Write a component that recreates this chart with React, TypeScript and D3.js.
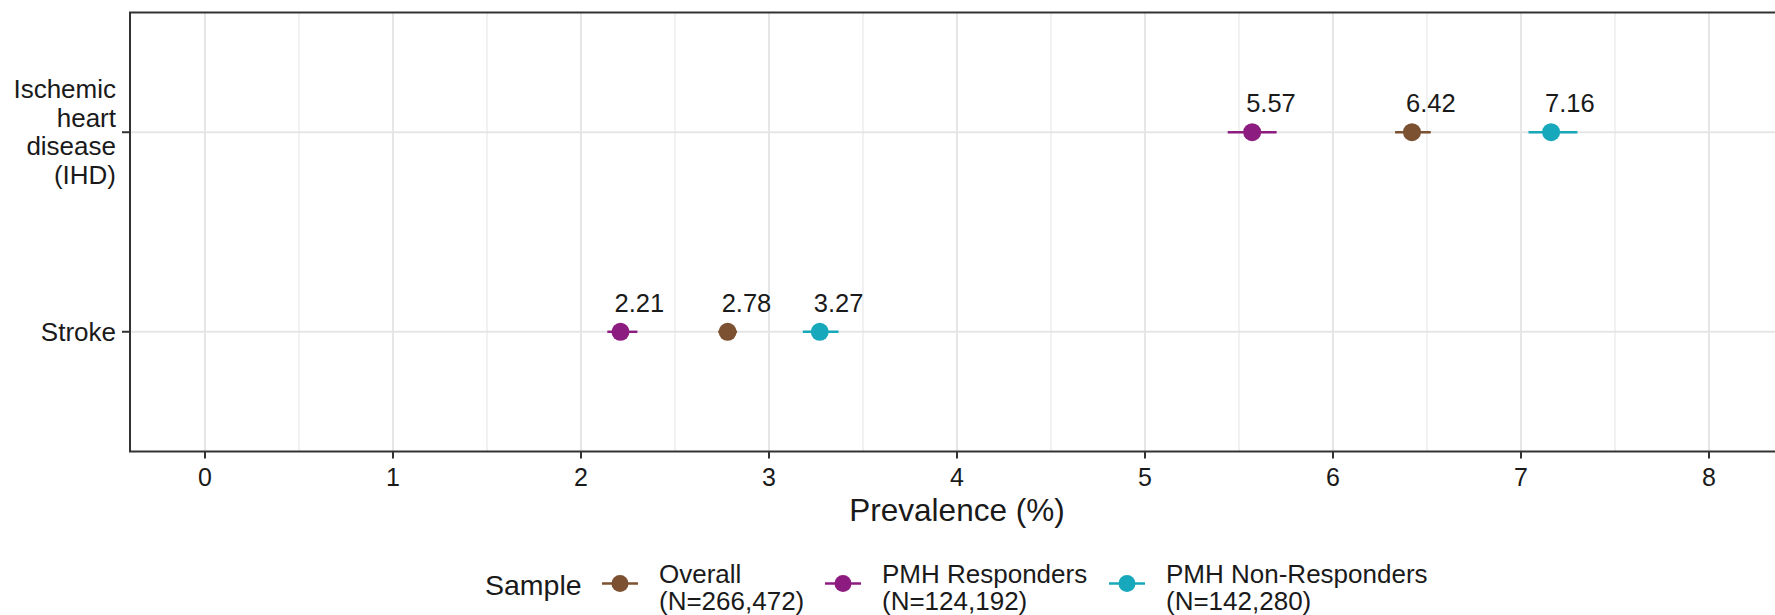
import { useEffect, useRef } from 'react'
import * as d3 from 'd3'

// conditions, top to bottom
const conditions = ['Ischemic\nheart\ndisease\n(IHD)', 'Stroke']
const samples = ['Overall', 'PMH Responders', 'PMH Non-Responders']
const sampleLabels = ['Overall\n(N=266,472)', 'PMH Responders\n(N=124,192)', 'PMH Non-Responders\n(N=142,280)']
const sampleColors = ['#7b5131', '#8c1c7f', '#17a8bb']

// prevalence (%) per sample, same order as conditions
const overallEst = [6.42, 2.78]
const overallLow = [6.33, 2.73]
const overallHigh = [6.52, 2.83]
const respEst = [5.57, 2.21]
const respLow = [5.44, 2.14]
const respHigh = [5.70, 2.30]
const nonRespEst = [7.16, 3.27]
const nonRespLow = [7.04, 3.18]
const nonRespHigh = [7.30, 3.37]

const xTicks = [0, 1, 2, 3, 4, 5, 6, 7, 8]
const xMinor = [0.5, 1.5, 2.5, 3.5, 4.5, 5.5, 6.5, 7.5]

const FONT = '"Liberation Sans", Arial, Helvetica, sans-serif'

export default function App() {
  const svgRef = useRef<SVGSVGElement>(null)

  useEffect(() => {
    if (!svgRef.current) return
    const svg = d3.select(svgRef.current)
    svg.selectAll('*').remove()

    const panel = { left: 130, top: 12.5, bottom: 451.5, right: 1790 }

    const x = d3.scaleLinear().domain([0, 8]).range([205, 1709])
    const y = d3.scalePoint<string>()
      .domain(conditions)
      .range([panel.top, panel.bottom])
      .padding(0.6)

    const series = [
      { est: overallEst, low: overallLow, high: overallHigh },
      { est: respEst, low: respLow, high: respHigh },
      { est: nonRespEst, low: nonRespLow, high: nonRespHigh }
    ]

    // grid
    const grid = svg.append('g')
    grid.selectAll('line.minor')
      .data(xMinor)
      .join('line')
      .attr('x1', d => x(d)).attr('x2', d => x(d))
      .attr('y1', panel.top).attr('y2', panel.bottom)
      .attr('stroke', '#ebebeb').attr('stroke-width', 1.4)
    grid.selectAll('line.major')
      .data(xTicks)
      .join('line')
      .attr('x1', d => x(d)).attr('x2', d => x(d))
      .attr('y1', panel.top).attr('y2', panel.bottom)
      .attr('stroke', '#e6e6e6').attr('stroke-width', 2)
    grid.selectAll('line.h')
      .data(conditions)
      .join('line')
      .attr('x1', panel.left).attr('x2', panel.right)
      .attr('y1', d => y(d)!).attr('y2', d => y(d)!)
      .attr('stroke', '#e6e6e6').attr('stroke-width', 2)

    // points + intervals
    series.forEach((s, si) => {
      const g = svg.append('g')
      conditions.forEach((c, ci) => {
        const cy = y(c)!
        g.append('line')
          .attr('x1', x(s.low[ci])).attr('x2', x(s.high[ci]))
          .attr('y1', cy).attr('y2', cy)
          .attr('stroke', sampleColors[si]).attr('stroke-width', 2.4)
        g.append('circle')
          .attr('cx', x(s.est[ci])).attr('cy', cy).attr('r', 9)
          .attr('fill', sampleColors[si])
        g.append('text')
          .attr('x', x(s.est[ci]) - 6)
          .attr('y', cy - 20)
          .attr('font-family', FONT)
          .attr('font-size', 25.5)
          .attr('fill', '#1a1a1a')
          .text(s.est[ci].toFixed(2))
      })
    })

    // panel border
    svg.append('rect')
      .attr('x', panel.left).attr('y', panel.top)
      .attr('width', panel.right - panel.left).attr('height', panel.bottom - panel.top)
      .attr('fill', 'none').attr('stroke', '#333').attr('stroke-width', 2)

    // x axis
    const xAxis = svg.append('g')
    xTicks.forEach(t => {
      xAxis.append('line')
        .attr('x1', x(t)).attr('x2', x(t))
        .attr('y1', panel.bottom).attr('y2', panel.bottom + 7)
        .attr('stroke', '#333').attr('stroke-width', 2)
      xAxis.append('text')
        .attr('x', x(t)).attr('y', 486)
        .attr('text-anchor', 'middle')
        .attr('font-family', FONT).attr('font-size', 25)
        .attr('fill', '#1a1a1a')
        .text(t)
    })
    svg.append('text')
      .attr('x', x(4)).attr('y', 520.5)
      .attr('text-anchor', 'middle')
      .attr('font-family', FONT).attr('font-size', 31.5)
      .attr('fill', '#1a1a1a')
      .text('Prevalence (%)')

    // y axis
    const lineH = 28.5
    conditions.forEach(c => {
      const cy = y(c)!
      svg.append('line')
        .attr('x1', panel.left - 8).attr('x2', panel.left)
        .attr('y1', cy).attr('y2', cy)
        .attr('stroke', '#333').attr('stroke-width', 2)
      const lines = c.split('\n')
      const t = svg.append('text')
        .attr('text-anchor', 'end')
        .attr('font-family', FONT).attr('font-size', 26)
        .attr('fill', '#1a1a1a')
      lines.forEach((l, i) => {
        t.append('tspan')
          .attr('x', 116)
          .attr('y', cy - ((lines.length - 1) / 2) * lineH + i * lineH + 9)
          .text(l)
      })
    })

    // legend
    const legY = 583.5
    svg.append('text')
      .attr('x', 485).attr('y', 594.5)
      .attr('font-family', FONT).attr('font-size', 28.5)
      .attr('fill', '#1a1a1a')
      .text('Sample')
    const keyX = [620, 843, 1127]
    samples.forEach((s, i) => {
      const g = svg.append('g').attr('class', `legend-${s.replace(/\W+/g, '-')}`)
      g.append('line')
        .attr('x1', keyX[i] - 18).attr('x2', keyX[i] + 18)
        .attr('y1', legY).attr('y2', legY)
        .attr('stroke', sampleColors[i]).attr('stroke-width', 2.4)
      g.append('circle')
        .attr('cx', keyX[i]).attr('cy', legY).attr('r', 8.5)
        .attr('fill', sampleColors[i])
      const t = g.append('text')
        .attr('font-family', FONT).attr('font-size', 26)
        .attr('fill', '#1a1a1a')
      sampleLabels[i].split('\n').forEach((l, li) => {
        t.append('tspan')
          .attr('x', keyX[i] + 39)
          .attr('y', 582.5 + li * 27)
          .text(l)
      })
    })
  }, [])

  return (
    <svg
      ref={svgRef}
      width={1775}
      height={615}
      style={{ position: 'absolute', left: 0, top: 0, background: '#fff' }}
    />
  )
}
